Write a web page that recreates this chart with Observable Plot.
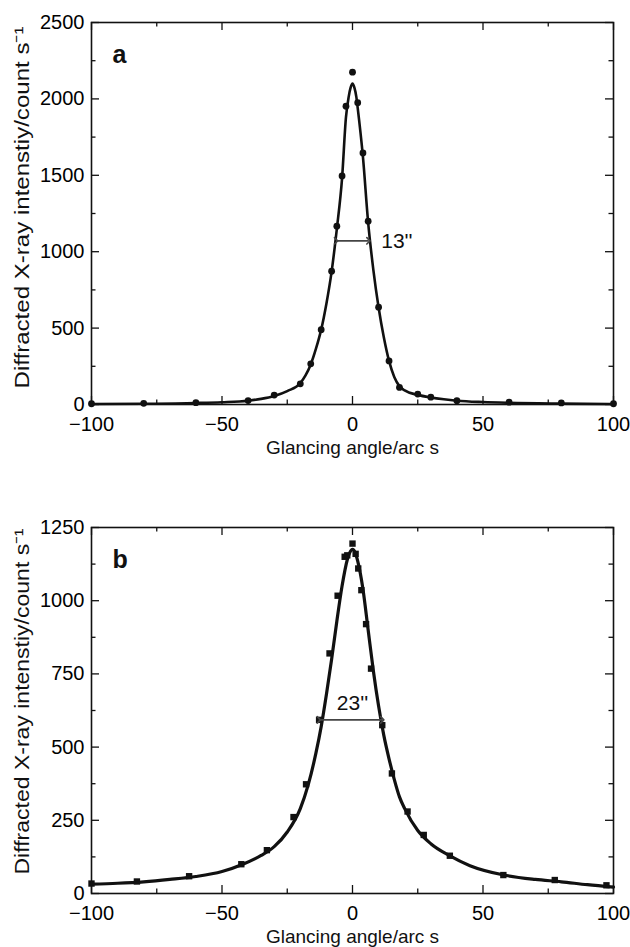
<!DOCTYPE html>
<html>
<head>
<meta charset="utf-8">
<script src="https://cdn.jsdelivr.net/npm/d3@7"></script>
<script src="https://cdn.jsdelivr.net/npm/@observablehq/plot@0.6"></script>
<style>
  html, body { margin: 0; padding: 0; background: #fff; }
  #chart svg { display: block; }
</style>
</head>
<body>
<div id="chart"></div>
<script>
// ---------- Panel a: measured points (circles) ----------
const angleA = [-100, -80, -60, -40, -30, -20, -16, -12, -8, -6, -4, -2.5, 0, 2, 4, 6, 10, 14, 18, 25, 30, 40, 60, 80, 100];
const intensityA = [5, 8, 12, 26, 62, 135, 266, 490, 872, 1167, 1496, 1952, 2175, 1975, 1646, 1200, 637, 285, 112, 68, 48, 25, 15, 10, 5];
// ---------- Panel a: fitted curve ----------
const curveAngleA = [-100, -80, -60, -50, -40, -35, -30, -25, -20, -18, -16, -14, -12, -10, -8, -6, -4, -2.5, -1.5, -0.7, 0, 0.7, 1.5, 2, 4, 6, 8, 10, 12, 14, 16, 18, 20, 25, 30, 35, 40, 50, 60, 80, 100];
const curveIntensityA = [3, 5, 10, 15, 25, 37, 56, 88, 140, 190, 262, 365, 490, 660, 870, 1150, 1480, 1880, 2010, 2075, 2100, 2075, 2010, 1940, 1620, 1190, 880, 635, 440, 285, 180, 120, 92, 63, 46, 34, 25, 16, 11, 6, 3];

// ---------- Panel b: measured points (squares) ----------
const angleB = [-100, -82.6, -62.6, -42.6, -32.8, -22.6, -17.8, -12.8, -8.8, -5.7, -3, -2, 0, 1.2, 2.2, 3.4, 5.2, 7.1, 11.4, 15.1, 21.1, 27.3, 37.3, 57.8, 77.5, 97.3];
const intensityB = [34, 41, 59, 100, 148, 261, 373, 593, 820, 1017, 1150, 1155, 1195, 1160, 1110, 1036, 920, 768, 575, 410, 280, 200, 129, 63, 46, 28];
// ---------- Panel b: fitted curve ----------
const curveAngleB = [-100, -90, -80, -70, -60, -50, -42, -35, -30, -25, -20, -17, -14, -12, -10, -8, -6, -4, -2, -1, 0, 1, 2, 4, 6, 8, 10, 12, 14, 16, 18, 20, 25, 30, 37, 45, 58, 70, 80, 90, 100];
const curveIntensityB = [32, 35, 40, 48, 58, 75, 100, 130, 160, 210, 290, 370, 480, 570, 680, 800, 930, 1050, 1140, 1165, 1175, 1165, 1135, 1040, 900, 760, 640, 540, 460, 390, 330, 290, 215, 170, 130, 95, 63, 48, 40, 30, 22];

// ---------- Axis ticks ----------
const xLabelTicks = [-100, -50, 0, 50, 100];
const xMajorTicks = [-100, -50, 0, 50, 100];
const xMinorTicks = [-75, -25, 25, 75];
const yLabelTicksA = [0, 500, 1000, 1500, 2000, 2500];
const yMinorTicksA = [250, 750, 1250, 1750, 2250];
const yLabelTicksB = [0, 250, 500, 750, 1000, 1250];
const yMinorTicksB = [125, 375, 625, 875, 1125];

// ---------- Annotations ----------
const fwhmA = {x1: -6.3, x2: 6.1, y: 1071, text: "13''", tx: 11, ty: 1071};
const fwhmB = {x1: -12.9, x2: 11.4, y: 593, text: "23''", tx: 0, ty: 651};
const yTitle = "Diffracted X-ray intenstiy/count s\u207B\u00B9";
const xTitle = "Glancing angle/arc s";

const FONT = "'Liberation Sans', Arial, Helvetica, sans-serif";
const fmt = d => (d < 0 ? "\u2212" + Math.abs(d) : String(d));

function panel(o) {
  const pts = o.px.map((x, i) => ({x, y: o.py[i]}));
  const cur = o.cx.map((x, i) => ({x, y: o.cy[i]}));
  const innerH = o.height - o.marginTop - o.marginBottom;
  const innerW = 630 - 91 - 17;
  const majorLen = 8, minorLen = 4.5;
  const svg = Plot.plot({
    width: 630,
    height: o.height,
    marginLeft: 91,
    marginRight: 17,
    marginTop: o.marginTop,
    marginBottom: o.marginBottom,
    x: {domain: [-100, 100]},
    y: {domain: [0, o.yMax]},
    style: {fontFamily: FONT, fontSize: "20px", color: "#000", background: "#fff", overflow: "visible"},
    marks: [
      // inward ticks, all four sides
      Plot.tickX(xMajorTicks, {x: d => d, insetTop: innerH - majorLen, stroke: "#111", strokeWidth: 1.3}),
      Plot.tickX(xMinorTicks, {x: d => d, insetTop: innerH - minorLen, stroke: "#111", strokeWidth: 1.3}),
      Plot.tickX(xMajorTicks, {x: d => d, insetBottom: innerH - majorLen, stroke: "#111", strokeWidth: 1.3}),
      Plot.tickX(xMinorTicks, {x: d => d, insetBottom: innerH - minorLen, stroke: "#111", strokeWidth: 1.3}),
      Plot.tickY(o.yMajor, {y: d => d, insetRight: innerW - majorLen, stroke: "#111", strokeWidth: 1.3}),
      Plot.tickY(o.yMinor, {y: d => d, insetRight: innerW - minorLen, stroke: "#111", strokeWidth: 1.3}),
      Plot.tickY(o.yMajor, {y: d => d, insetLeft: innerW - majorLen, stroke: "#111", strokeWidth: 1.3}),
      Plot.tickY(o.yMinor, {y: d => d, insetLeft: innerW - minorLen, stroke: "#111", strokeWidth: 1.3}),
      Plot.axisX(xLabelTicks, {tickSize: 0, tickPadding: 12, label: null, fontSize: 20, tickFormat: fmt}),
      Plot.axisY(o.yMajor, {tickSize: 0, tickPadding: 7, label: null, fontSize: 20, tickFormat: fmt}),
      // fitted curve
      Plot.line(cur, {x: "x", y: "y", curve: "monotone-x", stroke: "#111", strokeWidth: o.lineWidth}),
      // data points
      o.square
        ? Plot.dot(pts, {x: "x", y: "y", symbol: "square", r: 3.6, fill: "#111"})
        : Plot.dot(pts, {x: "x", y: "y", r: 3.4, fill: "#111"}),
      // FWHM arrow
      Plot.link([o.fwhm], {x1: "x1", x2: "x2", y1: "y", y2: "y", stroke: "#444", strokeWidth: 1.6, markerStart: "arrow", markerEnd: "arrow"}),
      Plot.text([o.fwhm], {x: "tx", y: "ty", text: "text", textAnchor: o.fwhmAnchor, fontSize: 21, fill: "#111"}),
      // panel letter
      Plot.text([o.letter], {frameAnchor: "top-left", dx: 21, dy: 23, fontSize: 25, fontWeight: "bold", fill: "#111"}),
      // titles
      Plot.text([yTitle], {frameAnchor: "left", textAnchor: "middle", rotate: -90, dx: -69, dy: o.yTitleDy, fontSize: 21, fill: "#111", className: "ytitle"}),
      Plot.text([xTitle], {frameAnchor: "bottom", lineAnchor: "middle", dy: 43, fontSize: 19, fill: "#111"}),
      Plot.frame({stroke: "#111", strokeWidth: 1.6})
    ]
  });
  const t = svg.querySelector(".ytitle text");
  if (t) {
    t.setAttribute("textLength", o.yTitleLen);
    t.setAttribute("lengthAdjust", "spacingAndGlyphs");
  }
  return svg;
}

const chart = document.getElementById("chart");
chart.append(panel({
  px: angleA, py: intensityA, cx: curveAngleA, cy: curveIntensityA,
  yMax: 2500, yMajor: yLabelTicksA, yMinor: yMinorTicksA,
  height: 470, marginTop: 22, marginBottom: 66,
  square: false, lineWidth: 2.6, fwhm: fwhmA, fwhmAnchor: "start", letter: "a",
  yTitleDy: -6, yTitleLen: 362
}));
chart.append(panel({
  px: angleB, py: intensityB, cx: curveAngleB, cy: curveIntensityB,
  yMax: 1250, yMajor: yLabelTicksB, yMinor: yMinorTicksB,
  height: 477, marginTop: 57, marginBottom: 54,
  square: true, lineWidth: 3.2, fwhm: fwhmB, fwhmAnchor: "middle", letter: "b",
  yTitleDy: -9, yTitleLen: 346
}));
</script>
</body>
</html>
